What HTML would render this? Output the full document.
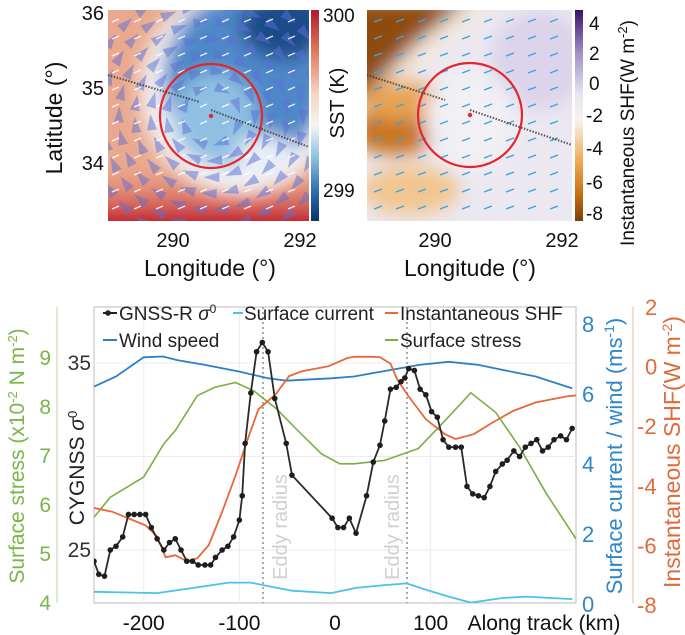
<!DOCTYPE html>
<html><head><meta charset="utf-8"><style>
html,body{margin:0;padding:0;background:#fff;}
svg{display:block;font-family:"Liberation Sans",sans-serif;}
</style></head><body>
<svg id="fig" width="685" height="635" viewBox="0 0 685 635" xmlns="http://www.w3.org/2000/svg">
<defs>
  <filter id="blur8" x="-30%" y="-30%" width="160%" height="160%"><feGaussianBlur stdDeviation="9"/></filter>
  <clipPath id="clipL"><rect x="108" y="10" width="201" height="211"/></clipPath>
  <clipPath id="clipR"><rect x="367" y="10" width="205" height="211"/></clipPath>
  <clipPath id="clipP"><rect x="94" y="307" width="482" height="296"/></clipPath>
  <linearGradient id="cbL" x1="0" y1="0" x2="0" y2="1">
    <stop offset="0" stop-color="#b2182b"/><stop offset="0.2" stop-color="#e07b5f"/>
    <stop offset="0.4" stop-color="#f8d5c4"/><stop offset="0.55" stop-color="#f4f4f4"/>
    <stop offset="0.7" stop-color="#8cc0e0"/><stop offset="0.85" stop-color="#2f73b4"/>
    <stop offset="1" stop-color="#0b3366"/></linearGradient>
  <linearGradient id="cbR" x1="0" y1="0" x2="0" y2="1">
    <stop offset="0" stop-color="#3a0f6b"/><stop offset="0.2" stop-color="#9d8fc4"/>
    <stop offset="0.4" stop-color="#e9e5f1"/><stop offset="0.52" stop-color="#f7f4ef"/>
    <stop offset="0.7" stop-color="#f0b060"/><stop offset="0.85" stop-color="#d07818"/>
    <stop offset="1" stop-color="#7d4008"/></linearGradient>
  <linearGradient id="bottomRed" x1="0" y1="0" x2="0" y2="1">
    <stop offset="0" stop-color="#e9a080" stop-opacity="0"/><stop offset="1" stop-color="#c42c35"/></linearGradient>
</defs>

<g>
  <g clip-path="url(#clipL)">
    <rect x="108" y="10" width="201" height="211" fill="#eaa98e"/>
    <rect x="108" y="160" width="201" height="61" fill="url(#bottomRed)"/>
    <g filter="url(#blur8)">
      <ellipse cx="240" cy="90" rx="100" ry="105" fill="#f2f2f4"/>
      <ellipse cx="245" cy="80" rx="82" ry="88" fill="#4f88c8"/>
      <ellipse cx="285" cy="25" rx="45" ry="35" fill="#1d4c8a"/>
      <ellipse cx="215" cy="118" rx="42" ry="46" fill="#8fc0e2"/>
      <ellipse cx="265" cy="155" rx="30" ry="20" fill="#e8eef6"/>
    </g>
    <g id="leftArrows"></g>
    <g id="leftWhite"></g>
  </g>
  <ellipse cx="211" cy="116" rx="51" ry="52" fill="none" stroke="#e3262b" stroke-width="2.2"/>
  <circle cx="211" cy="116" r="2.2" fill="#e3262b"/>
  <line x1="108" y1="75" x2="200" y2="102" stroke="#333" stroke-width="2" stroke-dasharray="1.5 1.5" opacity="0.8"/>
  <line x1="211" y1="110" x2="309" y2="147" stroke="#333" stroke-width="2" stroke-dasharray="1.5 1.5" opacity="0.8"/>
  <rect x="311" y="10" width="8" height="211" fill="url(#cbL)"/>
  <g font-size="19" fill="#111">
    <text x="323" y="22">300</text>
    <text x="323" y="197">299</text>
    <text x="104" y="20" text-anchor="end" font-size="20">36</text>
    <text x="104" y="95" text-anchor="end" font-size="20">35</text>
    <text x="104" y="170" text-anchor="end" font-size="20">34</text>
    <text x="173" y="247" text-anchor="middle" font-size="20">290</text>
    <text x="300" y="247" text-anchor="middle" font-size="20">292</text>
    <text x="210" y="276" text-anchor="middle" font-size="23">Longitude (°)</text>
    <text transform="translate(62,118) rotate(-90)" text-anchor="middle" font-size="23">Latitude (°)</text>
    <text transform="translate(344,103) rotate(-90)" text-anchor="middle" font-size="20">SST (K)</text>
  </g>
</g>

<g>
  <g clip-path="url(#clipR)">
    <rect x="367" y="10" width="205" height="211" fill="#ece8f1"/>
    <g filter="url(#blur8)">
      <polygon points="340,0 500,0 450,40 400,90 330,150" fill="#f3e9dc"/>
      <polygon points="340,0 470,0 420,40 380,80 340,110" fill="#8f4c0c"/>
      <ellipse cx="395" cy="130" rx="45" ry="25" fill="#c87420"/>
      <ellipse cx="400" cy="100" rx="40" ry="20" fill="#e8a455"/>
      <ellipse cx="410" cy="190" rx="50" ry="25" fill="#f2c690"/>
      <ellipse cx="540" cy="60" rx="50" ry="50" fill="#dcd4ea"/>
      <ellipse cx="470" cy="120" rx="45" ry="50" fill="#f2f0f4"/>
    </g>
    <g id="rightArrows"></g>
  </g>
  <ellipse cx="470" cy="115" rx="52" ry="52" fill="none" stroke="#e3262b" stroke-width="2.2"/>
  <circle cx="470" cy="115" r="2.2" fill="#e3262b"/>
  <line x1="367" y1="75" x2="445" y2="100" stroke="#333" stroke-width="2" stroke-dasharray="1.5 1.5" opacity="0.8"/>
  <line x1="470" y1="110" x2="572" y2="145" stroke="#333" stroke-width="2" stroke-dasharray="1.5 1.5" opacity="0.8"/>
  <rect x="575" y="10" width="8" height="211" fill="url(#cbR)"/>
  <g font-size="19" fill="#111">
    <text x="589" y="30">4</text>
    <text x="589" y="60">2</text>
    <text x="589" y="90">0</text>
    <text x="586" y="122">-2</text>
    <text x="586" y="155">-4</text>
    <text x="586" y="189">-6</text>
    <text x="586" y="220">-8</text>
    <text x="435" y="247" text-anchor="middle" font-size="20">290</text>
    <text x="562" y="247" text-anchor="middle" font-size="20">292</text>
    <text x="470" y="276" text-anchor="middle" font-size="23">Longitude (°)</text>
    <text transform="translate(634,133) rotate(-90)" text-anchor="middle" font-size="19">Instantaneous SHF(W m<tspan dy="-7" font-size="13">-2</tspan><tspan dy="7">)</tspan></text>
  </g>
</g>

<g>
  <rect x="94" y="307" width="482" height="296" fill="#fff" stroke="#c8c8c8" stroke-width="1.2"/>
  <g id="grid"></g>
  <line x1="263" y1="307" x2="263" y2="603" stroke="#aaa" stroke-width="2" stroke-dasharray="2 3"/>
  <line x1="407" y1="307" x2="407" y2="603" stroke="#aaa" stroke-width="2" stroke-dasharray="2 3"/>
  <text transform="translate(287,527) rotate(-90)" text-anchor="middle" font-size="20" fill="#d0d0d0">Eddy radius</text>
  <text transform="translate(399,527) rotate(-90)" text-anchor="middle" font-size="20" fill="#d0d0d0">Eddy radius</text>
  <g id="series" clip-path="url(#clipP)"></g>
  <g id="axes"></g>
  <g font-size="19" fill="#222">
    <g>
      <line x1="103" y1="313" x2="117" y2="313" stroke="#222" stroke-width="2"/><circle cx="108" cy="313" r="2.8" fill="#222"/>
      <text x="119" y="320">GNSS-R <tspan font-style="italic">σ</tspan><tspan dy="-7" font-size="12">0</tspan></text>
    </g>
    <g>
      <line x1="233" y1="313" x2="243" y2="313" stroke="#4cc0ee" stroke-width="2"/>
      <text x="244" y="320">Surface current</text>
    </g>
    <g>
      <line x1="385" y1="313" x2="398" y2="313" stroke="#e8683a" stroke-width="2"/>
      <text x="400" y="320">Instantaneous SHF</text>
    </g>
    <g>
      <line x1="103" y1="340" x2="117" y2="340" stroke="#2f7fc4" stroke-width="2"/>
      <text x="119" y="347">Wind speed</text>
    </g>
    <g>
      <line x1="385" y1="340" x2="398" y2="340" stroke="#78b044" stroke-width="2"/>
      <text x="400" y="347">Surface stress</text>
    </g>
  </g>
  <text transform="translate(24,456) rotate(-90)" text-anchor="middle" font-size="21" fill="#7ab648">Surface stress (x10<tspan dy="-7" font-size="13">-2</tspan><tspan dy="7"> N m</tspan><tspan dy="-7" font-size="13">-2</tspan><tspan dy="7">)</tspan></text>
  <text transform="translate(84,468) rotate(-90)" text-anchor="middle" font-size="21" fill="#222">CYGNSS <tspan font-style="italic">σ</tspan><tspan dy="-7" font-size="13">0</tspan></text>
  <text transform="translate(622,456) rotate(-90)" text-anchor="middle" font-size="22" fill="#2f86c8">Surface current / wind (ms<tspan dy="-8" font-size="14">-1</tspan><tspan dy="8">)</tspan></text>
  <text transform="translate(680,452) rotate(-90)" text-anchor="middle" font-size="23" fill="#e26a3a">Instantaneous SHF(W m<tspan dy="-8" font-size="14">-2</tspan><tspan dy="8">)</tspan></text>
  <text x="544" y="630" text-anchor="middle" font-size="21" fill="#111">Along track (km)</text>
</g>
</svg>

<script>
// ---------- chart data ----------
const gnssKm = [-252,-247,-241,-235,-229,-222,-216,-210,-204,-198,-192,-186,-179,-173,-167,-161,-155,-149,-143,-136,-130,-125,-118,-112,-106,-100,-97,-94,-88,-82,-76,-70,-63,-51,-45,-3,3,9,15,22,33,40,47,52,58,64,69,73,77,83,89,95,101,107,113,119,126,132,138,144,150,156,162,168,175,180,187,193,199,205,211,217,223,229,236,242,248];
const gnssSigma = [24.4,23.7,23.6,25.0,25.2,25.7,26.9,26.9,26.9,26.9,26.2,25.6,25.0,25.4,25.6,25.0,24.4,24.4,24.2,24.2,24.2,24.6,25.0,25.2,25.7,26.6,27.9,30.7,33.4,35.6,36.1,35.6,33.1,30.7,29.0,26.7,26.2,26.2,26.7,25.9,27.9,29.7,30.6,31.9,33.6,33.7,34.0,34.2,34.7,34.6,33.6,33.3,32.4,32.1,30.9,30.5,30.5,30.5,28.4,28.0,27.9,27.8,28.4,29.2,29.6,29.8,30.3,30.0,30.5,30.7,30.9,30.3,30.5,30.9,31.1,30.9,31.5];
const windKm = [-252,-229,-200,-180,-165,-136,-100,-70,-51,-4,20,40,61,88,119,150,175,210,248];
const windSpeed = [6.21,6.5,7.05,7.07,6.97,6.83,6.64,6.45,6.38,6.45,6.5,6.6,6.7,6.83,6.92,6.83,6.69,6.5,6.16];
const currentKm = [-252,-186,-148,-111,-88,-70,-45,-4,22,52,75,96,119,142,175,200,248];
const currentSpeed = [0.35,0.31,0.46,0.61,0.61,0.51,0.38,0.31,0.46,0.54,0.59,0.4,0.21,0.04,0.17,0.21,0.14];
const shfKm = [-252,-233,-198,-186,-177,-167,-155,-144,-132,-118,-104,-90,-80,-62,-48,-35,-7,13,20,38,47,58,65,77,95,115,126,145,162,186,210,244,252];
const shfValue = [-4.74,-4.87,-5.33,-5.7,-6.4,-6.33,-6.53,-6.43,-5.99,-4.87,-3.66,-2.32,-1.43,-0.93,-0.32,-0.16,0.01,0.29,0.33,0.33,0.32,0.1,-0.43,-1.0,-1.77,-2.27,-2.43,-2.27,-1.93,-1.49,-1.2,-0.99,-0.97];
const stressKm = [-252,-235,-200,-179,-167,-144,-126,-104,-85,-61,-39,-14,5,20,52,87,115,142,168,193,221,252];
const stressValue = [5.75,6.16,6.57,7.25,7.52,8.23,8.4,8.5,8.33,7.96,7.52,7.04,6.84,6.84,6.91,7.15,7.72,8.29,7.89,7.18,6.23,5.31];
const xTicks = [-200,-100,0,100];
const sigmaTicks = [25,35];
const stressTicks = [4,5,6,7,8,9];
const windTicks = [0,2,4,6,8];
const shfTicks = [-8,-6,-4,-2,0,2];

const PL=94, PR=576, PT=307, PB=603;
function lin(d0,d1,r0,r1){return v=>r0+(v-d0)*(r1-r0)/(d1-d0);}
const X = lin(-252,252,PL,PR);
const Ysig = lin(35,25,363,550);
const Ystr = lin(4,9,603,358);
const Ywind = lin(0,8,604,324);
const Yshf = lin(-8,2,605,307);

const NS='http://www.w3.org/2000/svg';
function mk(tag,attrs,parent){const e=document.createElementNS(NS,tag);for(const k in attrs)e.setAttribute(k,attrs[k]);parent.appendChild(e);return e;}
function pathD(xs,ys,fy){return xs.map((k,i)=>(i?'L':'M')+X(k).toFixed(1)+','+fy(ys[i]).toFixed(1)).join('');}

const grid=document.getElementById('grid');
xTicks.forEach(t=>{
  const g=mk('line',{x1:X(t),x2:X(t),y1:PT,y2:PB,stroke:'#ececec','stroke-width':1},grid);
  
  
});
[25,30,35].forEach(t=>{
  const g=mk('line',{x1:PL,x2:PR,y1:Ysig(t),y2:Ysig(t),stroke:'#ececec','stroke-width':1},grid);
  
  
});

const S=document.getElementById('series');
let p;
p=mk('path',{d:pathD(currentKm,currentSpeed,Ywind),fill:'none',stroke:'#4cc0ee','stroke-width':1.8},S);


p=mk('path',{d:pathD(windKm,windSpeed,Ywind),fill:'none',stroke:'#2f7fc4','stroke-width':1.8},S);


p=mk('path',{d:pathD(stressKm,stressValue,Ystr),fill:'none',stroke:'#78b044','stroke-width':1.6},S);


p=mk('path',{d:pathD(shfKm,shfValue,Yshf),fill:'none',stroke:'#e8683a','stroke-width':1.8},S);


p=mk('path',{d:pathD(gnssKm,gnssSigma,Ysig),fill:'none',stroke:'#2a2a2a','stroke-width':1.8},S);


gnssKm.forEach((k,i)=>{
  const c=mk('circle',{cx:X(k),cy:Ysig(gnssSigma[i]),r:2.8,fill:'#1e1e1e'},S);
  
  
});

const A=document.getElementById('axes');
xTicks.forEach(t=>{
  const tx=mk('text',{x:X(t),y:630,'text-anchor':'middle','font-size':21,fill:'#111'},A);
  tx.textContent=t;
  
  
});
sigmaTicks.forEach(t=>{
  const tx=mk('text',{x:91,y:Ysig(t)+7,'text-anchor':'end','font-size':21,fill:'#333'},A);
  tx.textContent=t;
  
  
});
let ax=mk('line',{x1:57,x2:57,y1:PT,y2:PB,stroke:'#c9dcb6','stroke-width':1.2},A);


stressTicks.forEach(t=>{
  const tx=mk('text',{x:51,y:Ystr(t)+7,'text-anchor':'end','font-size':21,fill:'#7ab648'},A);
  tx.textContent=t;
  
  
});
windTicks.forEach(t=>{
  const tx=mk('text',{x:582,y:Ywind(t)+8,'font-size':22,fill:'#2f86c8'},A);
  tx.textContent=t;
  
  
});
ax=mk('line',{x1:633,x2:633,y1:PT,y2:PB,stroke:'#f0c6b0','stroke-width':1.2},A);


shfTicks.forEach(t=>{
  const tx=mk('text',{x:t<0?637:645,y:Yshf(t)+8,'font-size':22,fill:'#e26a3a'},A);
  tx.textContent=t;
  
  
});

// ---------- map decorations ----------
const LA=document.getElementById('leftArrows'), LW=document.getElementById('leftWhite'), RA=document.getElementById('rightArrows');
const cx=211, cy=116;
for(let r=28;r<=125;r+=16){
  const n=Math.round(2*Math.PI*r/22);
  for(let i=0;i<n;i++){
    const a=i/n*2*Math.PI+r*0.1;
    const px=cx+r*Math.cos(a), py=cy+r*Math.sin(a)*1.02;
    const tx=-Math.sin(a), ty=Math.cos(a);
    const L=16, W=5;
    const pts=[[px+tx*L/2,py+ty*L/2],[px-tx*L/2+ty*W,py-ty*L/2-tx*W],[px-tx*L/2-ty*W,py-ty*L/2+tx*W]];
    const t=mk('polygon',{points:pts.map(q=>q.map(v=>v.toFixed(1)).join(',')).join(' '),fill:'#5a6fd6','fill-opacity':0.5},LA);
    
    
  }
}
for(let y=20;y<222;y+=17){
  for(let x=112;x<310;x+=22){
    const w=mk('line',{x1:x,y1:y+2,x2:x+7,y2:y-1,stroke:'#fff','stroke-width':1.4,'stroke-opacity':0.85},LW);
    
    
    const h=mk('line',{x1:x+262,y1:y+2,x2:x+270,y2:y-1,stroke:'#3ba3e0','stroke-width':1.4},RA);
    
    
  }
}
</script>
</body></html>
